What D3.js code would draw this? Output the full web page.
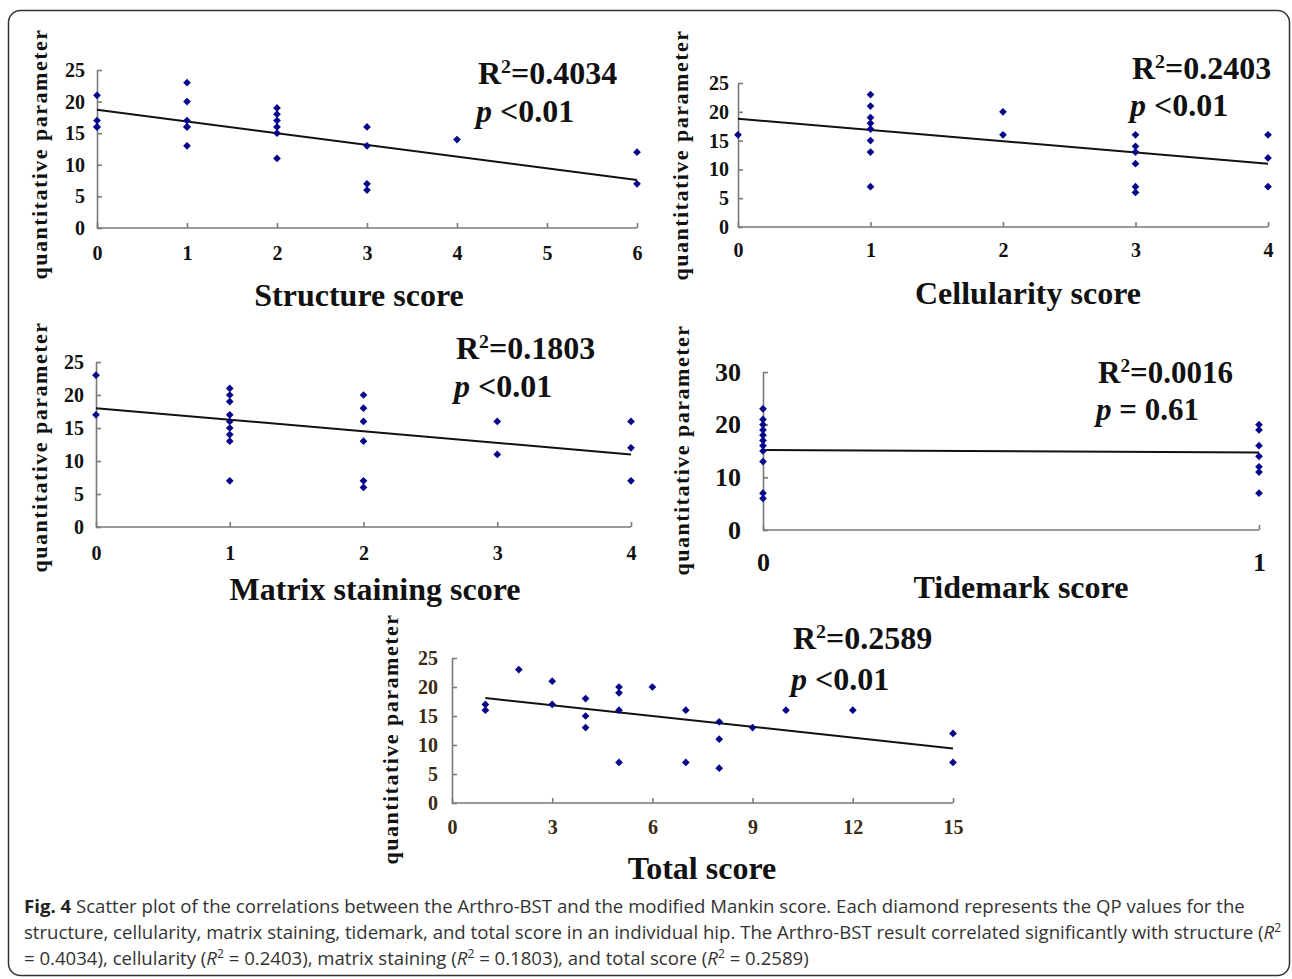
<!DOCTYPE html>
<html>
<head>
<meta charset="utf-8">
<style>
  body { margin: 0; background: #fff; }
  svg { display: block; }
  .axis path, .axis line { stroke: #7a7a7a; stroke-width: 1.6; }
  .tick text { font-family: 'Liberation Serif', 'Times New Roman', serif; font-weight: bold; }
  .ttl { font-family: 'Liberation Serif', 'Times New Roman', serif; font-weight: bold; fill: #111; }
  .cap { font-family: 'Open Sans', sans-serif; font-size: 18.6px; fill: #333; }
</style>
</head>
<body>
<svg width="1292" height="979"></svg>
<script src="https://d3js.org/d3.v7.min.js"></script>
<script>

// points: [score, quantitative parameter]
const structurePts = [[0,21],[0,17],[0,16],[0,16],
  [1,23],[1,20],[1,17],[1,16],[1,16],[1,13],
  [2,19],[2,18],[2,17],[2,16],[2,15],[2,11],
  [3,16],[3,13],[3,7],[3,6],[4,14],[6,12],[6,7]];
const cellularityPts = [[0,16],
  [1,23],[1,21],[1,19],[1,18],[1,17],[1,15],[1,13],[1,7],
  [2,20],[2,16],
  [3,16],[3,14],[3,13],[3,11],[3,7],[3,6],
  [4,16],[4,12],[4,7]];
const matrixPts = [[0,23],[0,17],
  [1,21],[1,20],[1,19],[1,17],[1,16],[1,15],[1,14],[1,13],[1,7],
  [2,20],[2,18],[2,16],[2,13],[2,7],[2,6],
  [3,16],[3,11],[4,16],[4,12],[4,7]];
const tidemarkPts = [[0,23],[0,21],[0,20],[0,19],[0,18],[0,17],[0,16],[0,15],[0,13],[0,7],[0,6],
  [1,20],[1,19],[1,16],[1,14],[1,12],[1,11],[1,7]];
const totalPts = [[1,17],[1,16],[2,23],[3,21],[3,17],[4,18],[4,15],[4,13],
  [5,20],[5,19],[5,16],[5,7],[6,20],[7,16],[7,7],[8,14],[8,11],[8,6],
  [9,13],[10,16],[12,16],[15,12],[15,7]];

// fitted line: [x start, y start, x end, y end]
const structureFit = [0, 18.7, 6, 7.6];
const cellularityFit = [0, 18.8, 4, 11.0];
const matrixFit = [0, 18.0, 4, 11.0];
const tidemarkFit = [0, 15.2, 1, 14.7];
const totalFit = [1, 18.1, 15, 9.4];

// axis ticks
const structureTicks = [0, 1, 2, 3, 4, 5, 6];
const fourTicks = [0, 1, 2, 3, 4];
const tidemarkTicks = [0, 1];
const totalTicks = [0, 3, 6, 9, 12, 15];
const qpTicks = [0, 5, 10, 15, 20, 25];
const qpTicks30 = [0, 10, 20, 30];

const stats = {
  structure: ["0.4034", "<0.01"],
  cellularity: ["0.2403", "<0.01"],
  matrix: ["0.1803", "<0.01"],
  tidemark: ["0.0016", "= 0.61"],
  total: ["0.2589", "<0.01"]
};

const svg = d3.select("svg");
svg.append("rect").attr("width", 1292).attr("height", 979).attr("fill", "#fff");
svg.append("rect")
  .attr("x", 8.5).attr("y", 10.5).attr("width", 1281).attr("height", 965)
  .attr("rx", 12).attr("fill", "none").attr("stroke", "#333").attr("stroke-width", 1.5);

const panels = [
  { pts: structurePts, fit: structureFit, xt: structureTicks, yt: qpTicks, ymax: 25,
    x: [97, 637], y: [228, 70], fs: 20, ypad: 12, xbase: 260, lab: "#111",
    title: "Structure score", tx: 359, ty: 306, qx: 47, qy: 154,
    st: stats.structure, sx: 478, sy: 84, sy2: 122, sfs: 32 },
  { pts: cellularityPts, fit: cellularityFit, xt: fourTicks, yt: qpTicks, ymax: 25,
    x: [738, 1268], y: [227, 83], fs: 20, ypad: 9, xbase: 257, lab: "#111",
    title: "Cellularity score", tx: 1028, ty: 304, qx: 688, qy: 155,
    st: stats.cellularity, sx: 1132, sy: 79, sy2: 116, sfs: 32 },
  { pts: matrixPts, fit: matrixFit, xt: fourTicks, yt: qpTicks, ymax: 25,
    x: [96, 631], y: [527, 362], fs: 20, ypad: 12, xbase: 560, lab: "#111",
    title: "Matrix staining score", tx: 375, ty: 600, qx: 47, qy: 447,
    st: stats.matrix, sx: 456, sy: 359, sy2: 397, sfs: 32 },
  { pts: tidemarkPts, fit: tidemarkFit, xt: tidemarkTicks, yt: qpTicks30, ymax: 30,
    x: [763, 1259], y: [530, 372], fs: 26, ypad: 22, xbase: 571, lab: "#111",
    title: "Tidemark score", tx: 1021, ty: 598, qx: 689, qy: 450,
    st: stats.tidemark, sx: 1098, sy: 383, sy2: 420, sfs: 31 },
  { pts: totalPts, fit: totalFit, xt: totalTicks, yt: qpTicks, ymax: 25,
    x: [452, 953], y: [803, 658], fs: 20, ypad: 14, xbase: 834, lab: "#3a2a12",
    title: "Total score", tx: 702, ty: 879, qx: 398, qy: 739,
    st: stats.total, sx: 793, sy: 649, sy2: 690, sfs: 32 }
];

const diamond = d3.symbol().type(d3.symbolSquare).size(30);

panels.forEach(function (p) {
  const x = d3.scaleLinear().domain([p.xt[0], p.xt[p.xt.length - 1]]).range(p.x);
  const y = d3.scaleLinear().domain([0, p.ymax]).range(p.y);
  const g = svg.append("g");

  const ax = g.append("g").attr("class", "axis")
    .attr("transform", "translate(0," + p.y[0] + ")")
    .call(d3.axisBottom(x).tickValues(p.xt).tickFormat(d3.format("d"))
      .tickSizeInner(-5).tickSizeOuter(0)
      .tickPadding(p.xbase - p.y[0] - 0.71 * p.fs));
  const ay = g.append("g").attr("class", "axis")
    .attr("transform", "translate(" + p.x[0] + ",0)")
    .call(d3.axisLeft(y).tickValues(p.yt)
      .tickSizeInner(-5).tickSizeOuter(0).tickPadding(p.ypad));
  [ax, ay].forEach(function (a) {
    a.selectAll("text").style("font-size", p.fs + "px").attr("fill", p.lab);
  });
  ax.select(".domain").attr("d", "M" + p.x[0] + ",0H" + p.x[1]);

  // trend line
  g.append("line")
    .attr("x1", x(p.fit[0])).attr("y1", y(p.fit[1]))
    .attr("x2", x(p.fit[2])).attr("y2", y(p.fit[3]))
    .attr("stroke", "#111").attr("stroke-width", 2);

  g.selectAll(".pt").data(p.pts).enter().append("path")
    .attr("class", "pt")
    .attr("d", diamond)
    .attr("transform", function (d) {
      return "translate(" + x(d[0]) + "," + y(d[1]) + ") rotate(45)";
    })
    .attr("fill", "#06068a");

  g.append("text").attr("class", "ttl")
    .attr("x", p.tx).attr("y", p.ty).attr("text-anchor", "middle")
    .style("font-size", "32px").text(p.title);

  g.append("text").attr("class", "ttl")
    .attr("transform", "translate(" + p.qx + "," + p.qy + ") rotate(-90)")
    .attr("text-anchor", "middle")
    .style("font-size", "22px").style("letter-spacing", "1.5px")
    .text("quantitative parameter");

  const r = g.append("text").attr("class", "ttl")
    .attr("x", p.sx).attr("y", p.sy).style("font-size", p.sfs + "px");
  r.append("tspan").text("R");
  r.append("tspan").attr("dy", -11).style("font-size", (p.sfs * 0.62) + "px").text("2");
  r.append("tspan").attr("dy", 11).text("=" + p.st[0]);

  const pv = g.append("text").attr("class", "ttl")
    .attr("x", p.sx - 2).attr("y", p.sy2).style("font-size", p.sfs + "px");
  pv.append("tspan").style("font-style", "italic").text("p");
  pv.append("tspan").text(" " + p.st[1]);
});

// caption
const cap = svg.append("g");
const l1 = cap.append("text").attr("class", "cap").attr("x", 24).attr("y", 913);
l1.append("tspan").style("font-weight", "bold").attr("fill", "#222").text("Fig. 4");
l1.append("tspan").text(" Scatter plot of the correlations between the Arthro-BST and the modified Mankin score. Each diamond represents the QP values for the");

const l2 = cap.append("text").attr("class", "cap").attr("x", 24).attr("y", 939);
l2.append("tspan").text("structure, cellularity, matrix staining, tidemark, and total score in an individual hip. The Arthro-BST result correlated significantly with structure (");
l2.append("tspan").style("font-style", "italic").text("R");
l2.append("tspan").attr("dy", -7).style("font-size", "12px").text("2");

const l3 = cap.append("text").attr("class", "cap").attr("x", 24).attr("y", 965);
const parts = [["= 0.4034), cellularity (", false], ["R", true], ["2", "sup"], [" = 0.2403), matrix staining (", false],
  ["R", true], ["2", "sup"], [" = 0.1803), and total score (", false], ["R", true], ["2", "sup"], [" = 0.2589)", false]];
parts.forEach(function (t, i) {
  const s = l3.append("tspan").text(t[0]);
  if (t[1] === true) s.style("font-style", "italic");
  if (t[1] === "sup") s.attr("dy", -7).style("font-size", "12px");
  else if (i > 0 && parts[i - 1][1] === "sup") s.attr("dy", 7);
});

</script>
</body>
</html>
